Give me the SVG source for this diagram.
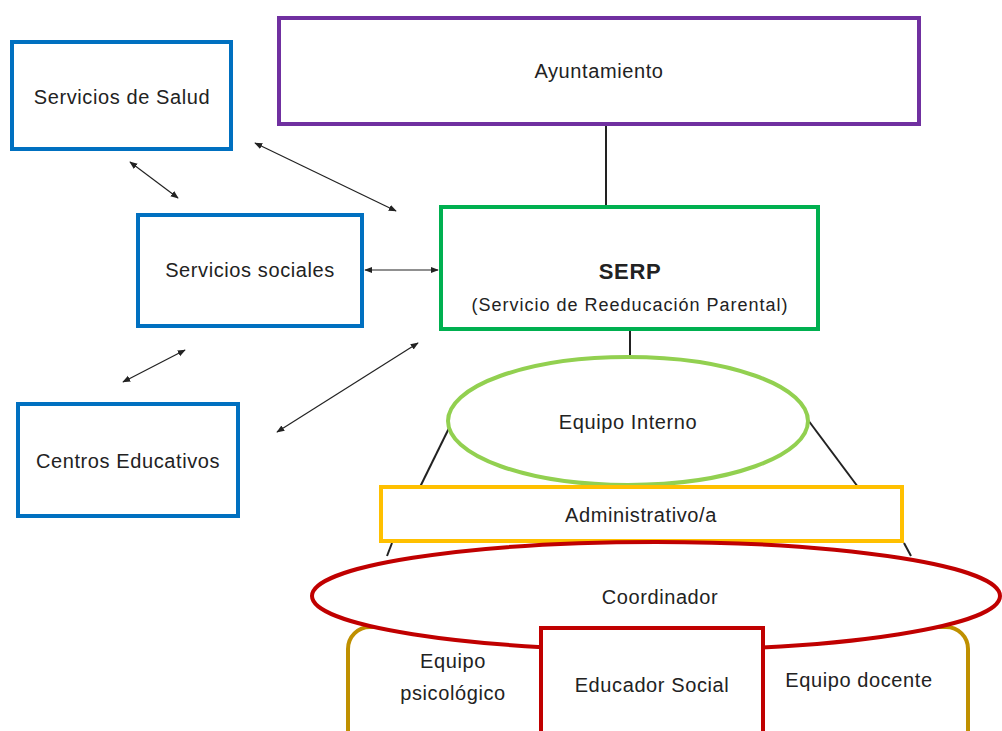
<svg xmlns="http://www.w3.org/2000/svg" width="1002" height="731" viewBox="0 0 1002 731">
<style>
text{font-family:"Liberation Sans",Arial,sans-serif;font-size:20px;letter-spacing:0.6px;fill:#222;text-anchor:middle}
.blue{fill:#fff;stroke:#0070C0;stroke-width:4}
.conn line{stroke:#222;stroke-width:1.2}
.arr{marker-start:url(#ah);marker-end:url(#ah)}
</style>
<defs>
<marker id="ah" viewBox="0 0 10 10" refX="9" refY="5" markerWidth="8" markerHeight="8" orient="auto-start-reverse" markerUnits="userSpaceOnUse"><path d="M0,1 L10,5 L0,9 Z" fill="#222"/></marker>
</defs>
<rect width="1002" height="731" fill="#fff"/>
<g class="conn">
<line x1="606" y1="125" x2="606" y2="207" style="stroke-width:2"/>
<line x1="630" y1="329" x2="630" y2="357" style="stroke-width:2"/>
<line x1="452" y1="422" x2="420" y2="487" style="stroke-width:2"/>
<line x1="808" y1="420" x2="858" y2="487" style="stroke-width:2"/>
<line x1="392" y1="543" x2="387" y2="556" style="stroke-width:2"/>
<line x1="904" y1="543" x2="911" y2="556" style="stroke-width:2"/>
<line class="arr" x1="130" y1="162" x2="178" y2="198"/>
<line class="arr" x1="255" y1="143" x2="396" y2="211"/>
<line class="arr" x1="365" y1="270" x2="438" y2="270"/>
<line class="arr" x1="185" y1="350" x2="123" y2="382"/>
<line class="arr" x1="418" y1="343" x2="277" y2="432"/>
</g>
<g id="salud"><rect class="blue" x="12" y="42" width="219" height="107"/><text x="122" y="104">Servicios de Salud</text></g>
<g id="ayuntamiento"><rect x="279" y="18" width="640" height="106" fill="#fff" stroke="#7030A0" stroke-width="4"/><text x="599" y="78">Ayuntamiento</text></g>
<g id="sociales"><rect class="blue" x="138" y="215" width="224" height="111"/><text x="250" y="277">Servicios sociales</text></g>
<g id="serp"><rect x="441" y="207" width="377" height="122" fill="#fff" stroke="#00B050" stroke-width="4"/><text x="630" y="279" style="font-weight:bold;font-size:22px">SERP</text><text x="630" y="311" style="font-size:18px;letter-spacing:1px">(Servicio de Reeducación Parental)</text></g>
<g id="centros"><rect class="blue" x="18" y="404" width="220" height="112"/><text x="128" y="468">Centros Educativos</text></g>
<g id="equipo-docente-base"><rect x="348" y="627" width="620" height="130" rx="22" fill="#fff" stroke="#BF9000" stroke-width="4"/><text x="453" y="668">Equipo</text><text x="453" y="700">psicológico</text><text x="859" y="687">Equipo docente</text></g>
<g id="equipo-interno"><ellipse cx="628" cy="421" rx="180" ry="64" fill="#fff" stroke="#92D050" stroke-width="4"/><text x="628" y="429">Equipo Interno</text></g>
<g id="administrativo"><rect x="381" y="487" width="521" height="54" fill="#fff" stroke="#FFC000" stroke-width="4"/><text x="641" y="522">Administrativo/a</text></g>
<g id="coordinador"><ellipse cx="656" cy="596" rx="344" ry="54" fill="#fff" stroke="#C00000" stroke-width="4"/><text x="660" y="604">Coordinador</text></g>
<g id="educador"><rect x="541" y="628" width="222" height="130" fill="#fff" stroke="#C00000" stroke-width="4"/><text x="652" y="692">Educador Social</text></g>
</svg>
